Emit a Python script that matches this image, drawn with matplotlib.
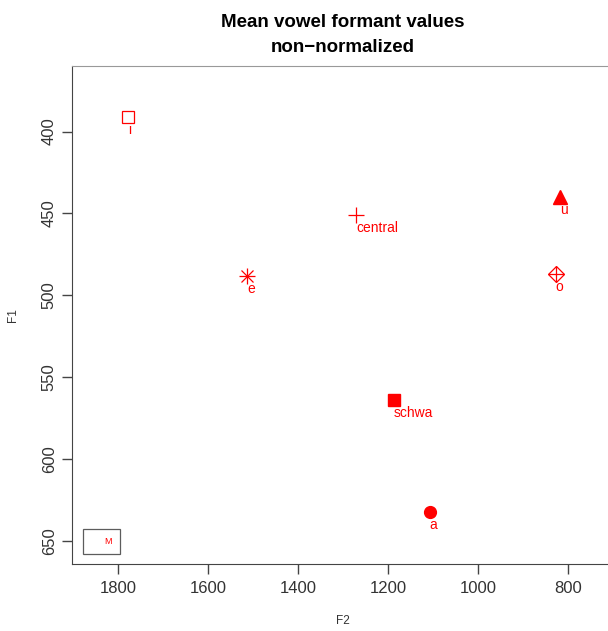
import matplotlib
matplotlib.use("Agg")
import matplotlib.pyplot as plt
from matplotlib.lines import Line2D

# Mean formant values per vowel (Hz)
vowels = ["i", "central", "u", "e", "o", "schwa", "a"]
f2 = [1778, 1271, 818, 1513, 827, 1187, 1107]
f1 = [391, 451, 440, 488, 487, 564, 632]

plt.rcParams['font.family'] = ['Liberation Sans', 'DejaVu Sans']

fig = plt.figure(figsize=(6.08, 6.31), dpi=100)
ax = fig.add_axes([0.1184, 0.1062, 0.8898, 0.7892])

red = '#ff0000'
# marker styles mimic R's pch codes
styles = {
    "i": dict(marker='s', ms=8, mfc='none', mec=red, mew=0.9),
    "central": [dict(marker='+', ms=12, mec=red, mew=0.9)],
    "u": dict(marker='^', ms=10, mfc=red, mec=red),
    "e": [dict(marker='+', ms=11, mec=red, mew=0.9),
          dict(marker='x', ms=8, mec=red, mew=0.9)],
    "o": [dict(marker='D', ms=8, mfc='none', mec=red, mew=0.9),
          dict(marker='+', ms=11, mec=red, mew=0.9)],
    "schwa": dict(marker='s', ms=8, mfc=red, mec=red),
    "a": dict(marker='o', ms=8.5, mfc=red, mec=red),
}

for v, x, y in zip(vowels, f2, f1):
    st = styles[v]
    if isinstance(st, dict):
        st = [st]
    for s in st:
        ax.plot([x], [y], linestyle='none', **s)
    ax.annotate(v, (x, y), xytext=(0, -4.5), textcoords='offset points',
                ha='left', va='top', color=red, fontsize=10)

ax.set_xlim(1902, 700)
ax.set_ylim(664, 360)
ax.set_xticks([1800, 1600, 1400, 1200, 1000, 800])
ax.set_yticks([400, 450, 500, 550, 600, 650])
ax.tick_params(direction='out', length=7, width=1, colors='#444444',
               labelsize=12, labelcolor='#333333')
ax.tick_params(axis='x', pad=5)
ax.tick_params(axis='y', pad=4)
for lab in ax.get_yticklabels():
    lab.set_rotation(90)
    lab.set_va('center')
for side in ['left', 'bottom']:
    ax.spines[side].set_color('#444444')
for side in ['top', 'right']:
    ax.spines[side].set_color('#999999')

ax.set_xlabel("F2", fontsize=8.5, color='#333333', labelpad=14)
ax.set_ylabel("F1", fontsize=8.5, color='#333333', labelpad=16)
ax.set_title("Mean vowel formant values\nnon\u2212normalized",
             fontsize=13.5, fontweight='bold', pad=10, linespacing=1.6)

# legend box with only the speaker label
h = Line2D([], [], linestyle='none')
leg = ax.legend([h], ["M"], loc='lower left', bbox_to_anchor=(0.02, 0.02),
                fontsize=6.5, labelcolor=red, fancybox=False,
                edgecolor='#333333', handlelength=1.2, borderpad=0.9,
                handletextpad=0.3, borderaxespad=0)
leg.get_frame().set_linewidth(0.9)

fig.savefig("out.png", dpi=100)
